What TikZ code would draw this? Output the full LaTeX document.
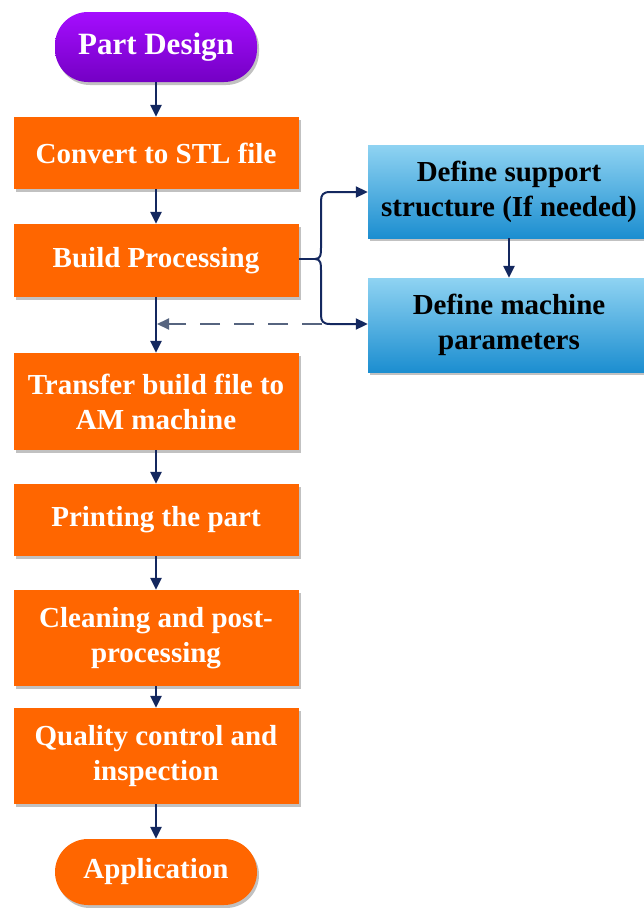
\documentclass[tikz,border=0pt]{standalone}
\usepackage{fontspec}
\setmainfont{Liberation Serif}
\usetikzlibrary{shadows,arrows.meta}
\definecolor{orng}{HTML}{FF6600}
\definecolor{purtop}{HTML}{A50DFF}
\definecolor{purbot}{HTML}{7400C4}
\definecolor{bltop}{HTML}{8FD3F2}
\definecolor{blbot}{HTML}{1C8ED0}
\definecolor{navy}{HTML}{14285F}
\definecolor{dashc}{HTML}{56647F}
\tikzset{
  shd/.style={drop shadow={shadow xshift=2pt,shadow yshift=-3pt,opacity=0.35,fill=black!70}},
  obox/.style={shd,rectangle,fill=orng,minimum width=285pt,inner sep=0pt,align=center,text=white,
    font=\fontsize{29}{35}\selectfont\bfseries},
  term/.style={shd,rectangle,rounded corners=33pt,minimum width=202pt,inner sep=0pt,align=center,text=white,
    font=\fontsize{29}{35}\selectfont\bfseries},
  bbox/.style={shd,rectangle,top color=bltop,bottom color=blbot,minimum width=282pt,inner sep=0pt,align=center,text=black,
    font=\fontsize{29}{35}\selectfont\bfseries},
  tipa/.tip={Triangle[length=12pt,width=11pt]},
  flow/.style={draw=navy,line width=2.6pt,-tipa},
  thin/.style={draw=navy,line width=2pt},
}
\begin{document}
\begin{tikzpicture}[x=1pt,y=-1pt]
\useasboundingbox (0,0) rectangle (644,908);
\node[term,top color=purtop,bottom color=purbot,minimum height=70pt] (pd) at (156,47) {\fontsize{31}{35}\selectfont Part Design};
\node[obox,minimum height=72pt] (stl) at (156,153) {Convert to STL file};
\node[obox,minimum height=73pt] (bp) at (156,260.5) {Build Processing};
\node[obox,minimum height=97pt] (tr) at (156,401.5) {Transfer build file to\\AM machine};
\node[obox,minimum height=72pt] (pr) at (156,520) {Printing the part};
\node[obox,minimum height=96pt] (cl) at (156,638) {Cleaning and post-\\processing};
\node[obox,minimum height=96pt] (qc) at (156,756) {Quality control and\\inspection};
\node[term,fill=orng,minimum height=66pt] (ap) at (156,872) {Application};
\node[bbox,minimum height=93pt] (ds) at (509,191.5) {Define support\\structure (If needed)};
\node[bbox,minimum height=94pt] (dm) at (509,325) {Define machine\\parameters};

\draw[flow] (pd.south) -- (stl.north);
\draw[flow] (stl.south) -- (bp.north);
\draw[flow] (bp.south) -- (tr.north);
\draw[flow] (tr.south) -- (pr.north);
\draw[flow] (pr.south) -- (cl.north);
\draw[flow] (cl.south) -- (qc.north);
\draw[flow] (qc.south) -- (ap.north);
\draw[flow] (ds.south) -- (dm.north);

\coordinate (tip) at (315,259);
\coordinate (ta) at (330,192);
\coordinate (tb) at (330,324);
\draw[thin] (bp.east |- tip) -- (tip);
\draw[thin,-tipa] (tip) .. controls (321,259) and (321,254) .. (321,248)
  -- (321,201) .. controls (321,195) and (323,192) .. (ta) -- (ds.west |- ta);
\draw[thin,-tipa] (tip) .. controls (321,259) and (321,264) .. (321,270)
  -- (321,315) .. controls (321,321) and (323,324) .. (tb) -- (dm.west |- tb);
\coordinate (dstart) at (322,324);
\coordinate (dend) at (157,324);
\draw[draw=dashc,line width=2pt,dash pattern=on 20pt off 14pt,-tipa] (dstart) -- (dend);
\end{tikzpicture}
\end{document}
